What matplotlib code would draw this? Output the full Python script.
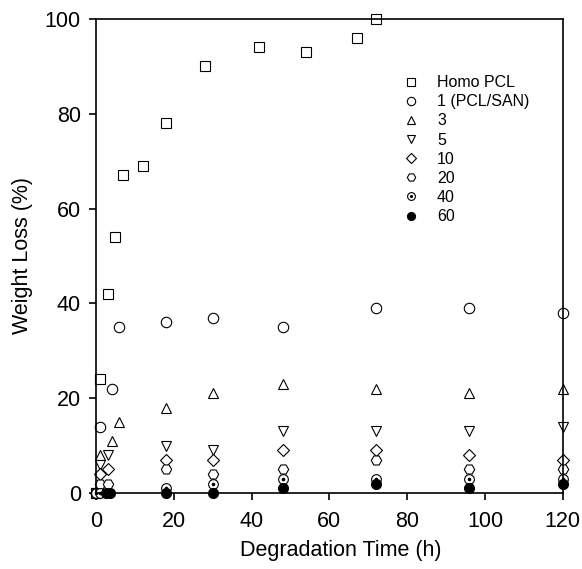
import matplotlib
matplotlib.use('Agg')
import matplotlib.pyplot as plt
from matplotlib.legend_handler import HandlerTuple

plt.rcParams['font.family'] = ['Liberation Sans', 'DejaVu Sans']

# weight loss data
t_homo = [0, 1, 3, 5, 7, 12, 18, 28, 42, 54, 67, 72]
w_homo = [0, 24, 42, 54, 67, 69, 78, 90, 94, 93, 96, 100]

t_1 = [0, 1, 4, 6, 18, 30, 48, 72, 96, 120]
w_1 = [0, 14, 22, 35, 36, 37, 35, 39, 39, 38]

t_3 = [0, 1, 4, 6, 18, 30, 48, 72, 96, 120]
w_3 = [0, 8, 11, 15, 18, 21, 23, 22, 21, 22]

t_5 = [0, 1, 3, 18, 30, 48, 72, 96, 120]
w_5 = [0, 6, 8, 10, 9, 13, 13, 13, 14]

t_10 = [0, 1, 3, 18, 30, 48, 72, 96, 120]
w_10 = [0, 4, 5, 7, 7, 9, 9, 8, 7]

t_20 = [0, 1, 3, 18, 30, 48, 72, 96, 120]
w_20 = [0, 2, 2, 5, 4, 5, 7, 5, 5]

t_40 = [0, 1, 18, 30, 48, 72, 96, 120]
w_40 = [0, 0, 1, 2, 3, 3, 3, 3]

t_60 = [2.5, 3.5, 18, 30, 48, 72, 96, 120]
w_60 = [0, 0, 0, 0, 1, 2, 1, 2]

labels = ['Homo PCL', '1 (PCL/SAN)', '3', '5', '10', '20', '40', '60']

fig = plt.figure(figsize=(5.82, 5.69), dpi=100)
ax = fig.add_axes([0.165, 0.1336, 0.802, 0.833])

ms = 7
kw = dict(linestyle='none', mfc='white', mec='black', mew=0.8, clip_on=False)
handles = []
handles.append(ax.plot(t_homo, w_homo, marker='s', ms=ms, **kw)[0])
handles.append(ax.plot(t_1, w_1, marker='o', ms=ms + 0.5, **kw)[0])
handles.append(ax.plot(t_3, w_3, marker='^', ms=ms + 0.5, **kw)[0])
handles.append(ax.plot(t_5, w_5, marker='v', ms=ms + 0.5, **kw)[0])
handles.append(ax.plot(t_10, w_10, marker='D', ms=ms - 0.5, **kw)[0])
handles.append(ax.plot(t_20, w_20, marker='H', ms=ms + 0.5, **kw)[0])
h40a = ax.plot(t_40, w_40, marker='o', ms=ms, **kw)[0]
h40b = ax.plot(t_40, w_40, marker='o', ms=1.6, linestyle='none', color='black', clip_on=False)[0]
handles.append((h40a, h40b))
handles.append(ax.plot(t_60, w_60, marker='o', ms=ms, linestyle='none', color='black', clip_on=False)[0])

ax.set_xlim(0, 120)
ax.set_ylim(0, 100)
ax.set_xticks(range(0, 121, 20))
ax.set_yticks(range(0, 101, 20))
ax.tick_params(direction='out', length=5, width=1.2, labelsize=15.5, pad=6)
ax.tick_params(axis='x', pad=8)
for s in ax.spines.values():
    s.set_linewidth(1.2)

ax.set_xlabel('Degradation Time (h)', fontsize=15.5)
ax.set_ylabel('Weight Loss (%)', fontsize=15.5)
ax.xaxis.set_label_coords(0.525, -0.1)
ax.yaxis.set_label_coords(-0.135, 0.5)

leg = ax.legend(handles, labels, loc='upper left', bbox_to_anchor=(0.645, 0.895),
                frameon=False, fontsize=11.5, handletextpad=1.1, labelspacing=0.26,
                handlelength=1.0, markerscale=0.8, borderaxespad=0,
                handler_map={tuple: HandlerTuple(ndivide=1, pad=0)})

fig.savefig('out.png', dpi=100)
